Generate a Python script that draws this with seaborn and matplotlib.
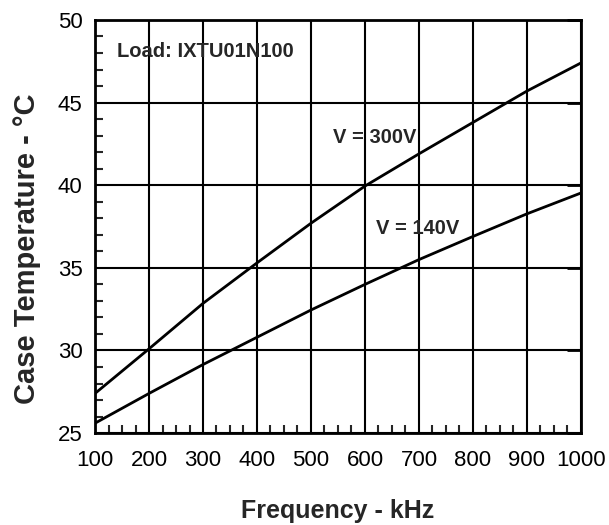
import matplotlib
matplotlib.use("Agg")
import matplotlib.pyplot as plt
from matplotlib.ticker import MultipleLocator
import seaborn as sns
import pandas as pd

freq_khz = [100, 200, 300, 400, 500, 600, 700, 800, 900, 1000]
temp_300v = [27.4, 30.1, 32.85, 35.3, 37.7, 39.95, 41.9, 43.8, 45.7, 47.4]
temp_140v = [25.6, 27.4, 29.15, 30.8, 32.45, 34.0, 35.5, 36.9, 38.27, 39.53]
series_names = ["V = 300V", "V = 140V"]

df = pd.concat([
    pd.DataFrame({"freq": freq_khz, "temp": temp_300v, "series": series_names[0]}),
    pd.DataFrame({"freq": freq_khz, "temp": temp_140v, "series": series_names[1]}),
])

sns.set_style("white")
plt.rcParams["font.family"] = ["Liberation Sans", "DejaVu Sans"]

fig = plt.figure(figsize=(6.09, 5.25), dpi=100)
ax = fig.add_axes([0.156, 0.175, 0.798, 0.787])

sns.lineplot(data=df, x="freq", y="temp", hue="series",
             palette=["black", "black"], linewidth=2, legend=False, ax=ax)

ax.set_xlim(100, 1000)
ax.set_ylim(25, 50)
ax.xaxis.set_major_locator(MultipleLocator(100))
ax.xaxis.set_minor_locator(MultipleLocator(25))
ax.yaxis.set_major_locator(MultipleLocator(5))
ax.yaxis.set_minor_locator(MultipleLocator(1))

ax.grid(True, which="major", color="black", linewidth=1.5)
for s in ax.spines.values():
    s.set_color("black")
    s.set_linewidth(2)

ax.tick_params(axis="x", which="major", labelsize=16, direction="in",
               length=0, pad=12, colors="black")
ax.tick_params(axis="y", which="major", labelsize=16, direction="in",
               length=10, width=2, pad=9, colors="black", right=True, left=False)
ax.tick_params(axis="x", which="minor", direction="in", length=6, width=1.5,
               bottom=True, top=False)
ax.tick_params(axis="y", which="minor", direction="in", length=6, width=1.5,
               left=True, right=False)

ax.set_xlabel("Frequency - kHz", fontsize=18, fontweight="bold")
ax.set_ylabel("Case Temperature - \u00b0C", fontsize=21, fontweight="bold")
ax.xaxis.label.set_va("center")
ax.xaxis.set_label_coords(0.5, -0.188)
ax.yaxis.label.set_va("center")
ax.yaxis.label.set_ha("center")
ax.yaxis.set_label_coords(-0.14, 0.446)

ax.text(141, 48.1, "Load: IXTU01N100", fontsize=14.5, fontweight="bold", va="center", ha="left")
ax.text(540, 42.9, series_names[0], fontsize=14.5, fontweight="bold", va="center", ha="left")
ax.text(620, 37.4, series_names[1], fontsize=14.5, fontweight="bold", va="center", ha="left")

fig.savefig("out.png", dpi=100)
